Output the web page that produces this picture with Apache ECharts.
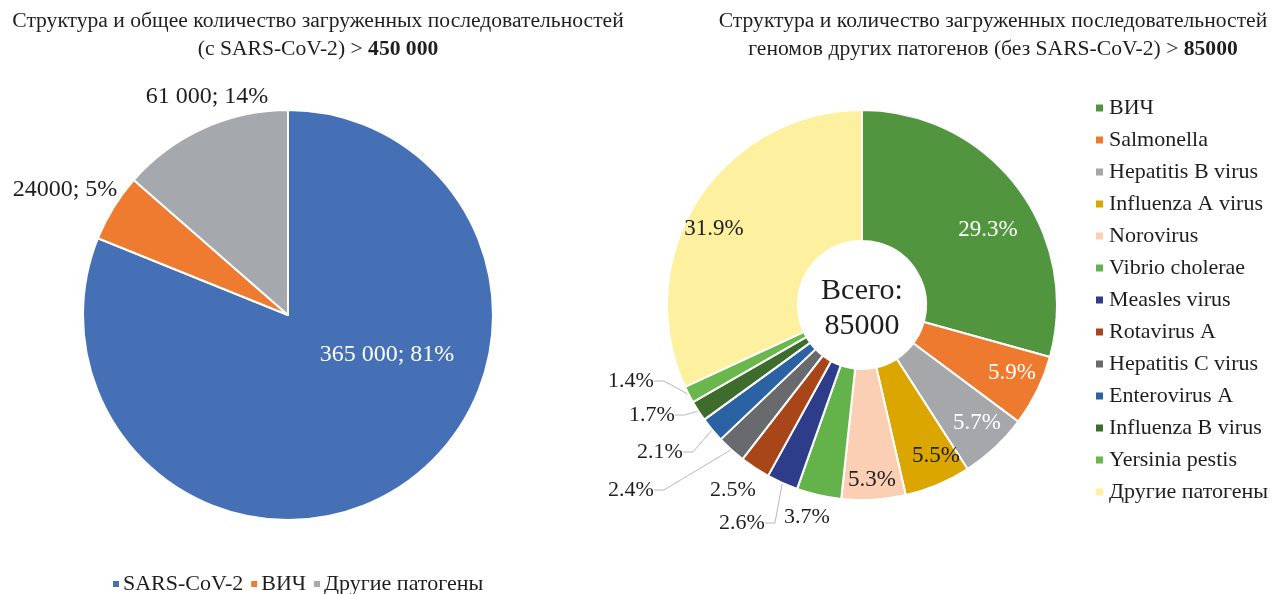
<!DOCTYPE html>
<html><head><meta charset="utf-8">
<script src="https://cdn.jsdelivr.net/npm/echarts@6/dist/echarts.min.js"></script>
<style>html,body{margin:0;padding:0;background:#fff}#c{width:1287px;height:594px}</style>
</head><body><div id="c"></div>
<script>
// Left pie data
const leftNames = ['SARS-CoV-2', 'ВИЧ', 'Другие патогены'];
const leftValues = [365000, 24000, 61000];
const leftLabels = ['365 000; 81%', '24000; 5%', '61 000; 14%'];
const leftColors = ['#4570b6', '#ee7b30', '#a5a8ac'];

// Right pie data (percent of 85000)
const rightNames = ['ВИЧ', 'Salmonella', 'Hepatitis B virus', 'Influenza A virus', 'Norovirus',
  'Vibrio cholerae', 'Measles virus', 'Rotavirus A', 'Hepatitis C virus', 'Enterovirus A',
  'Influenza B virus', 'Yersinia pestis', 'Другие патогены'];
const rightValues = [29.3, 5.9, 5.7, 5.5, 5.3, 3.7, 2.6, 2.5, 2.4, 2.1, 1.7, 1.4, 31.9];
const rightColors = ['#51963e', '#ee7a2f', '#a5a7ab', '#dca600', '#fbcfb3', '#64b34a', '#2e3d89',
  '#a8461a', '#696a6d', '#2a62a4', '#3d6c2c', '#6ab74b', '#fdf1a0'];
const rightTotal = 85000;

const FONT = 'Liberation Serif';
const TXT = '#1e1e1e';
const chart = echarts.init(document.getElementById('c'));
const LC = [288, 315], RC = [862, 305];

// label placement (offset of label centre from pie centre, px)
const leftLabelPos = [[99, 40], [-223, -125], [-81, -218]];
const rightLabelPos = [[126, -75], [150, 68], [115, 118], [74, 151], [10, 175], [-55, 212], [-120, 218],
  [-129, 185], [-231, 185], [-202, 147], [-210, 110], [-231, 76], [-148, -76]];
const rightInside = [0, 1, 2, 3, 4, 12];
const rightWhite = [0, 1, 2];
const rightNoLine = [0, 1, 2, 3, 4, 5, 7, 12];

function placer(center, pos) {
  return function (p) {
    const o = pos[p.dataIndex];
    return { x: center[0] + o[0], y: center[1] + o[1], align: 'center', verticalAlign: 'middle' };
  };
}

const rightData = rightNames.map((n, i) => ({
  name: n, value: rightValues[i],
  itemStyle: { color: rightColors[i] },
  label: { color: rightWhite.includes(i) ? '#fff' : TXT, fontSize: rightInside.includes(i) ? 23 : 22 },
  labelLine: { show: !rightNoLine.includes(i) }
}));

const titleRich = {
  n: { fontFamily: FONT, fontSize: 21.6, color: TXT, fontWeight: 'normal', lineHeight: 28 },
  b: { fontFamily: FONT, fontSize: 21.6, color: TXT, fontWeight: 'bold', lineHeight: 28 }
};

chart.setOption({
  animation: false,
  title: [
    { text: '{n|Структура и общее количество загруженных последовательностей}\n{n|(с SARS-CoV-2) > }{b|450 000}',
      left: 313, top: 2, textAlign: 'center', textStyle: { rich: titleRich } },
    { text: '{n|Структура и количество загруженных последовательностей}\n{n|геномов других патогенов (без SARS-CoV-2) > }{b|85000}',
      left: 988, top: 2, textAlign: 'center', textStyle: { rich: titleRich } },
    { text: 'Всего:\n' + rightTotal, left: RC[0] - 5, top: RC[1] - 36, textAlign: 'center',
      textStyle: { fontFamily: FONT, fontSize: 30, fontWeight: 'normal', color: TXT, lineHeight: 35 } }
  ],
  legend: [
    { data: leftNames.map((n, i) => ({ name: n, itemStyle: { color: leftColors[i] } })),
      left: 106, top: 568, itemWidth: 8, itemHeight: 8, itemGap: 6,
      icon: 'rect', textStyle: { fontFamily: FONT, fontSize: 22, color: TXT, padding: [0, 0, 0, -2] } },
    { data: rightNames.map((n, i) => ({ name: n, itemStyle: { color: rightColors[i] } })),
      orient: 'vertical', left: 1089, top: 92, itemWidth: 9, itemHeight: 9, itemGap: 10,
      icon: 'rect', textStyle: { fontFamily: FONT, fontSize: 22, color: TXT, lineHeight: 22 } }
  ],
  series: [
    { type: 'pie', center: LC, radius: [0, 205], startAngle: 90, clockwise: true,
      avoidLabelOverlap: false,
      itemStyle: { borderColor: '#fff', borderWidth: 2 },
      label: { position: 'outside', fontFamily: FONT, fontSize: 24, color: TXT,
               formatter: p => leftLabels[p.dataIndex] },
      labelLine: { show: false },
      labelLayout: placer(LC, leftLabelPos),
      data: leftNames.map((n, i) => ({
        name: n, value: leftValues[i], itemStyle: { color: leftColors[i] },
        label: i === 0 ? { color: '#fff' } : {}
      }))
    },
    { type: 'pie', center: RC, radius: [64, 195], startAngle: 90, clockwise: true,
      avoidLabelOverlap: false,
      itemStyle: { borderColor: '#fff', borderWidth: 2 },
      label: { position: 'outside', fontFamily: FONT, fontSize: 22, formatter: p => p.value.toFixed(1) + '%' },
      labelLine: { length: 10, length2: 10, lineStyle: { color: '#b8b8b8', width: 1 } },
      labelLayout: placer(RC, rightLabelPos),
      data: rightData
    }
  ]
});
</script></body></html>
